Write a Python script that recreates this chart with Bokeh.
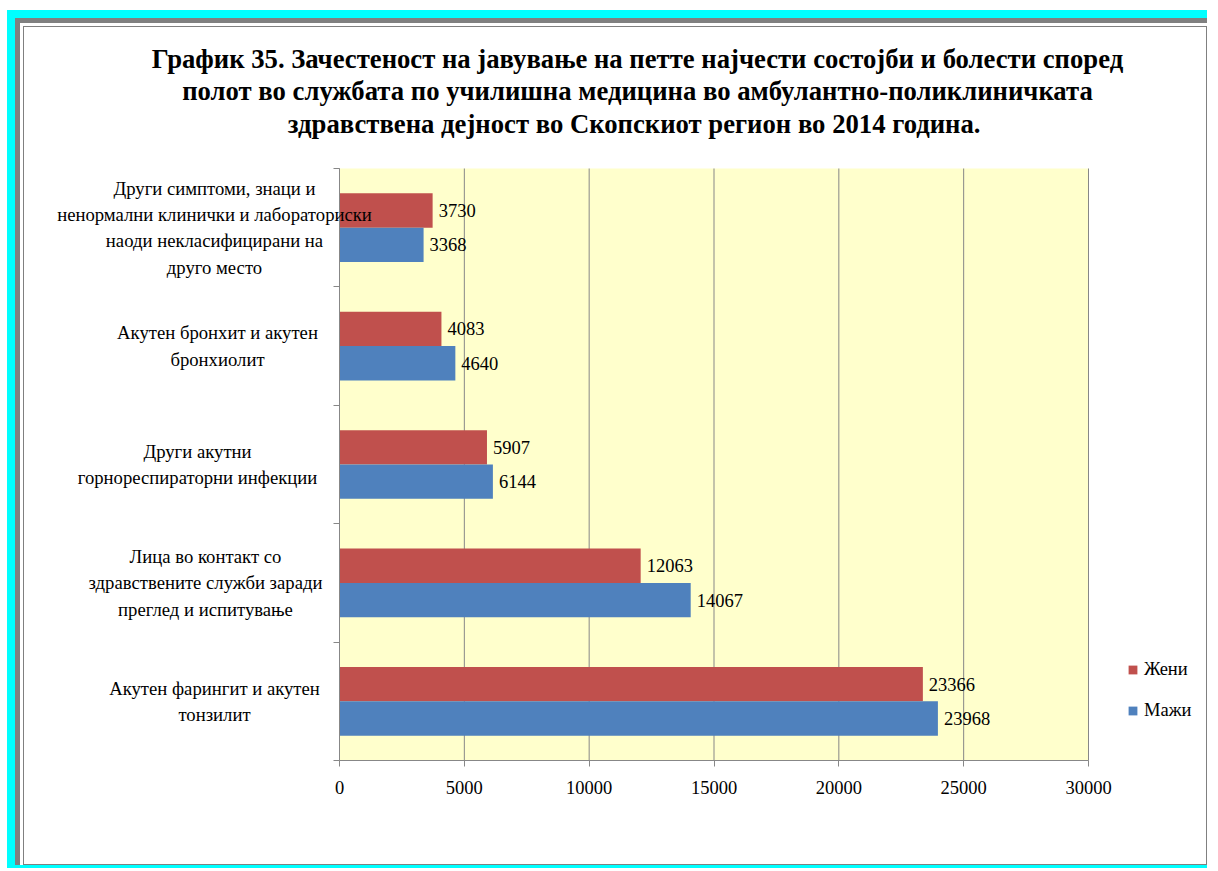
from bokeh.plotting import figure
from bokeh.models import (Range1d, FixedTicker, Label, BoxAnnotation,
                          Legend, LegendItem, ColumnDataSource)
from bokeh.transform import dodge
from bokeh.layouts import column
from bokeh.embed import file_html
from bokeh.resources import INLINE
from bokeh.core.properties import value

# ---------------- data ----------------
categories = [
    "Други симптоми, знаци и\nненормални клинички и лабораториски\nнаоди некласифицирани на\nдруго место",
    "Акутен бронхит и акутен\nбронхиолит",
    "Други акутни\nгорнореспираторни инфекции",
    "Лица во контакт со\nздравствените служби заради\nпреглед и испитување",
    "Акутен фарингит и акутен\nтонзилит",
]
zheni = [3730, 4083, 5907, 12063, 23366]   # Жени
mazhi = [3368, 4640, 6144, 14067, 23968]   # Мажи
series_names = ["Жени", "Мажи"]
x_ticks = [0, 5000, 10000, 15000, 20000, 25000, 30000]
title_text = ("График 35. Зачестеност на јавување на петте најчести состојби и болести според\n"
              "полот во службата по училишна медицина во амбулантно-поликлиничката\n"
              "здравствена дејност во Скопскиот  регион во 2014 година.")

# ---------------- styles / layout ----------------
RED = "#C0504D"
BLUE = "#4F81BD"
GRID = "#878787"
PLOT_BG = "#FFFFCC"
FONT = "Liberation Serif"
X_MAX = 30000
N = len(categories)

CANVAS_W, CANVAS_H = 1184, 839
MB_LEFT, MB_BOTTOM = 12, 60
CANVAS_PX, CANVAS_PY = 24, 27              # page position of the canvas
FR_L = CANVAS_PX + MB_LEFT                 # frame edges in page px
FR_R = CANVAS_PX + CANVAS_W
FR_T = CANVAS_PY
FR_B = CANVAS_PY + CANVAS_H - MB_BOTTOM
PA_L, PA_R, PA_T, PA_B = 339, 1088, 168, 760   # plot area in page px

XS = X_MAX / (PA_R - PA_L)
YS = N / (PA_B - PA_T)
def xd(px):
    return (px - PA_L) * XS
def yd(py):
    return (PA_B - py) * YS

cat_label_cx = [214, 217, 197, 205, 214]

# category slot centres: first category at the top
ypos = [N - i - 0.5 for i in range(N)]

src = ColumnDataSource(dict(
    cat=categories,
    ypos=ypos,
    zheni=zheni,
    mazhi=mazhi,
    zheni_lbl=[str(v) for v in zheni],
    mazhi_lbl=[str(v) for v in mazhi],
))

p = figure(
    width=CANVAS_W, height=CANVAS_H,
    x_range=Range1d(xd(FR_L), xd(FR_R)),
    y_range=Range1d(yd(FR_B), yd(FR_T)),
    output_backend="svg", toolbar_location=None,
    min_border_left=MB_LEFT, min_border_right=0,
    min_border_top=0, min_border_bottom=MB_BOTTOM,
)
p.background_fill_color = "white"
p.border_fill_color = "white"
p.outline_line_color = None
p.xgrid.visible = False
p.ygrid.visible = False

# plot area background
p.add_layout(BoxAnnotation(left=0, right=X_MAX, bottom=0, top=N, fill_color=PLOT_BG,
                           fill_alpha=1, line_color=None, level="underlay"))
# vertical grid lines at the x ticks
p.segment(x0=x_ticks, y0=[0] * len(x_ticks), x1=x_ticks, y1=[N] * len(x_ticks),
          line_color=GRID, line_width=1)

DOFF = 0.145
BH = 0.29
r_red = p.hbar(y=dodge("ypos", DOFF), left=0, right="zheni", height=BH,
               fill_color=RED, line_color=None, source=src)
r_blue = p.hbar(y=dodge("ypos", -DOFF), left=0, right="mazhi", height=BH,
                fill_color=BLUE, line_color=None, source=src)

p.text(x="zheni", y=dodge("ypos", DOFF), text="zheni_lbl", source=src,
       x_offset=6, text_baseline="middle", text_align="left",
       text_font=value(FONT), text_font_size="18.5px", text_color="black")
p.text(x="mazhi", y=dodge("ypos", -DOFF), text="mazhi_lbl", source=src,
       x_offset=6, text_baseline="middle", text_align="left",
       text_font=value(FONT), text_font_size="18.5px", text_color="black")

# x axis, pinned at y = 0
xa = p.xaxis[0]
xa.fixed_location = 0
xa.bounds = (0, X_MAX)
xa.ticker = FixedTicker(ticks=x_ticks)
xa.axis_line_color = GRID
xa.major_tick_line_color = GRID
xa.major_tick_out = 6
xa.major_tick_in = 0
xa.minor_tick_line_color = None
xa.major_label_text_font = FONT
xa.major_label_text_font_size = "18.5px"
xa.major_label_text_color = "black"
xa.major_label_standoff = 14

# y axis, pinned at x = 0, ticks at category boundaries, no labels
ya = p.yaxis[0]
ya.fixed_location = 0
ya.bounds = (0, N)
ya.ticker = FixedTicker(ticks=list(range(N + 1)))
ya.axis_line_color = GRID
ya.major_tick_line_color = GRID
ya.major_tick_out = 6
ya.major_tick_in = 0
ya.minor_tick_line_color = None
ya.major_label_text_font_size = "0px"
ya.major_label_text_color = None
ya.major_label_standoff = 0

# category labels
for cat, y, cx in zip(categories, ypos, cat_label_cx):
    p.add_layout(Label(x=xd(cx), y=y, text=cat,
                       text_align="center", text_baseline="middle",
                       text_font=FONT, text_font_size="18.7px", text_color="black",
                       text_line_height=1.26))

# title
p.add_layout(Label(x=xd(637), y=yd(91), text=title_text,
                   text_align="center", text_baseline="middle", text_font=FONT,
                   text_font_size="26.7px", text_font_style="bold", text_color="black",
                   text_line_height=1.095))

# legend (inside frame, located in frame px from bottom-left)
legend = Legend(items=[LegendItem(label=series_names[0], renderers=[r_red]),
                       LegendItem(label=series_names[1], renderers=[r_blue])],
                location=(1127 - FR_L, FR_B - 721), orientation="vertical")
legend.label_text_font = FONT
legend.label_text_font_size = "18.5px"
legend.label_text_color = "black"
legend.glyph_width = 11
legend.glyph_height = 11
legend.label_standoff = 6
legend.spacing = 20
legend.padding = 0
legend.margin = 0
legend.border_line_color = None
legend.background_fill_alpha = 0
p.add_layout(legend)

# frame decoration (cyan / grey borders)
p.styles = {"border": "1px solid #808080"}
inner = column(p, styles={"border-style": "solid", "border-color": "#FFFFFF",
                          "border-width": "3px 0px 0px 3px"})
mid = column(inner, styles={"border-style": "solid", "border-color": "#808080",
                            "border-width": "5px 0px 0px 5px"})
cyan = column(mid, styles={"border-style": "solid", "border-color": "#00FFFF",
                           "border-width": "8px 0px 3px 8px"})
outer = column(cyan, styles={"border-style": "solid", "border-color": "#FFFFFF",
                             "border-width": "10px 0px 0px 7px"})

open("out.html", "w").write(file_html(outer, INLINE))
